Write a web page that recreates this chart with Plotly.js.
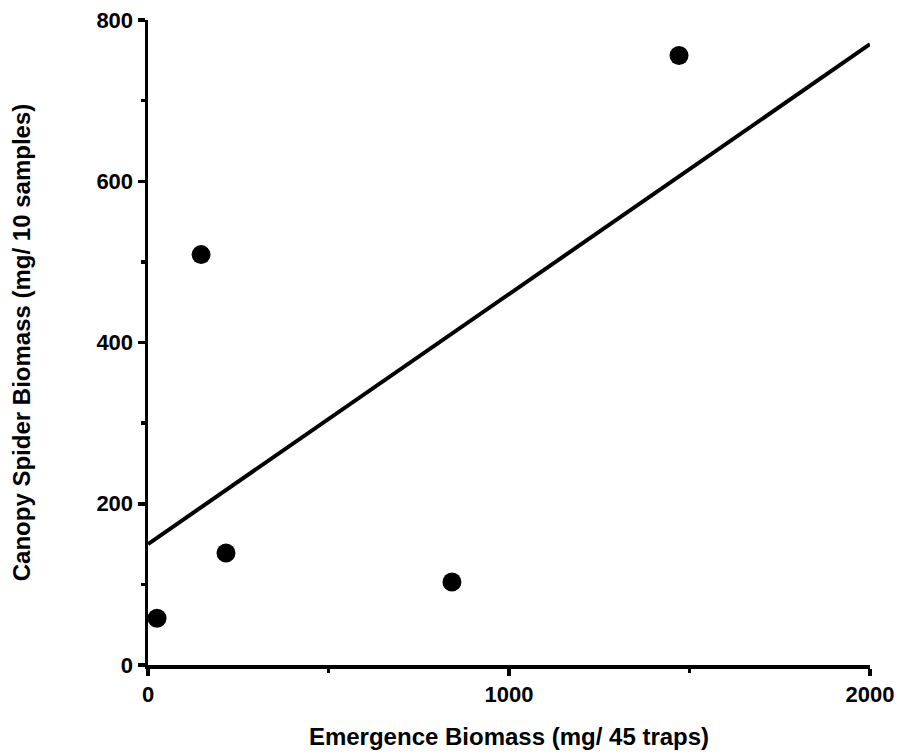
<!DOCTYPE html>
<html>
<head>
<meta charset="utf-8">
<script src="https://cdn.plot.ly/plotly-3.0.1.min.js"></script>
<style>html,body{margin:0;padding:0;background:#fff;}#chart{width:900px;height:755px;}</style>
</head>
<body>
<div id="chart"></div>
<script>
// Observed points
const emergenceBiomass = [25, 147, 216, 842, 1471];
const spiderBiomass = [58, 509, 139, 103, 756];
// Fitted regression line endpoints
const fitX = [0, 2000];
const fitY = [150, 770];
// Tick labels
const xTickVals = [0, 1000, 2000];
const xTickText = ['0', '1000', '2000'];
const yTickVals = [0, 200, 400, 600, 800];
const yTickText = ['0', '200', '400', '600', '800'];

const fam = 'Liberation Sans, Arial, sans-serif';

const traces = [
  {
    x: fitX, y: fitY, type: 'scatter', mode: 'lines',
    line: {color: '#000', width: 4}, hoverinfo: 'skip', cliponaxis: false
  },
  {
    x: emergenceBiomass, y: spiderBiomass, type: 'scatter', mode: 'markers',
    marker: {color: '#000', size: 19, symbol: 'circle', line: {color: '#000', width: 0}},
    cliponaxis: false
  }
];

const tickFont = {family: fam, size: 22, color: '#000', weight: 700};

const layout = {
  width: 900, height: 755,
  margin: {l: 148, r: 30, t: 20, b: 90},
  paper_bgcolor: '#fff', plot_bgcolor: '#fff',
  showlegend: false,
  font: {family: fam, color: '#000'},
  xaxis: {
    range: [0, 2000],
    tickmode: 'array', tickvals: xTickVals, ticktext: xTickText,
    showgrid: false, zeroline: false,
    showline: true, linecolor: '#000', linewidth: 3.5,
    ticks: 'outside', ticklen: 7, tickwidth: 3.5, tickcolor: '#000',
    minor: {ticks: 'outside', ticklen: 4, tickwidth: 3.5, tickcolor: '#000', dtick: 500, tick0: 0, showgrid: false},
    tickfont: tickFont,
    title: {text: 'Emergence Biomass (mg/ 45 traps)', font: {family: fam, size: 24, color: '#000', weight: 700}, standoff: 23},
    automargin: false
  },
  yaxis: {
    range: [0, 800],
    tickmode: 'array', tickvals: yTickVals, ticktext: yTickText,
    showgrid: false, zeroline: false,
    showline: true, linecolor: '#000', linewidth: 3.5,
    ticks: 'outside', ticklen: 7, tickwidth: 3.5, tickcolor: '#000',
    minor: {ticks: 'outside', ticklen: 4, tickwidth: 3.5, tickcolor: '#000', dtick: 100, tick0: 0, showgrid: false},
    tickfont: tickFont,
    title: {text: 'Canopy Spider Biomass (mg/ 10 samples)', font: {family: fam, size: 24, color: '#000', weight: 700}, standoff: 60},
    automargin: false
  }
};

Plotly.newPlot('chart', traces, layout, {staticPlot: true, displayModeBar: false});
</script>
</body>
</html>
